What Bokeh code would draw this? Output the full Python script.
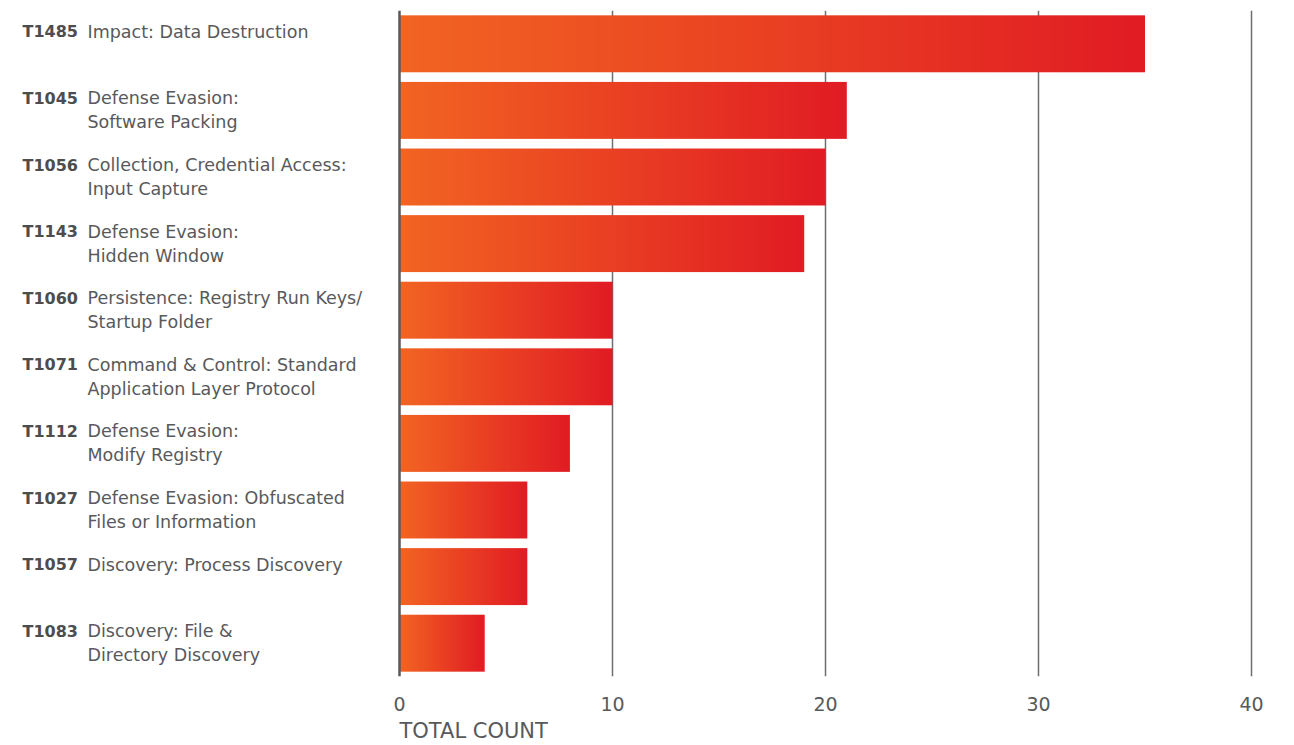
import numpy as np
from bokeh.plotting import figure
from bokeh.models import Range1d, FixedTicker, Span, Title, ColumnDataSource
from bokeh.embed import file_html
from bokeh.resources import INLINE
from bokeh.core.properties import value

codes = ["T1485", "T1045", "T1056", "T1143", "T1060", "T1071", "T1112", "T1027", "T1057", "T1083"]
desc_line1 = ["Impact: Data Destruction", "Defense Evasion:", "Collection, Credential Access:",
              "Defense Evasion:", "Persistence: Registry Run Keys/", "Command & Control: Standard",
              "Defense Evasion:", "Defense Evasion: Obfuscated", "Discovery: Process Discovery",
              "Discovery: File &"]
desc_line2 = ["", "Software Packing", "Input Capture", "Hidden Window", "Startup Folder",
              "Application Layer Protocol", "Modify Registry", "Files or Information", "",
              "Directory Discovery"]
counts = [35, 21, 20, 19, 10, 10, 8, 6, 6, 4]
x_ticks = [0, 10, 20, 30, 40]
axis_title = "TOTAL COUNT"

FONT = "DejaVu Sans"
TEXT_COLOR = "#58595b"
PX_PER_UNIT = 21.3
W = 1278
ZERO_PX = 399
n = len(codes)
ypos = [n - 1 - i for i in range(n)]
bar_h = 0.855

x_start = -ZERO_PX / PX_PER_UNIT
x_end = (W - ZERO_PX) / PX_PER_UNIT

p = figure(width=W, height=745, output_backend="svg", toolbar_location=None,
           x_range=Range1d(x_start, x_end), y_range=Range1d(-0.5, n - 0.5),
           y_axis_location=None, min_border_top=10, min_border_bottom=68,
           min_border_left=0, min_border_right=0)
p.outline_line_color = None
p.ygrid.grid_line_color = None
p.xgrid.ticker = FixedTicker(ticks=x_ticks[1:])
p.xgrid.grid_line_color = "#6d6e71"
p.xgrid.grid_line_width = 1.5

# gradient image (orange -> red)
steps = 256
img = np.empty((1, steps), dtype=np.uint32)
view = img.view(dtype=np.uint8).reshape((1, steps, 4))
view[0, :, 0] = np.linspace(242, 225, steps).astype(np.uint8)
view[0, :, 1] = np.linspace(101, 28, steps).astype(np.uint8)
view[0, :, 2] = np.linspace(34, 36, steps).astype(np.uint8)
view[0, :, 3] = 255

bars = ColumnDataSource(dict(
    image=[img] * n,
    x=[0] * n,
    y=[y - bar_h / 2 for y in ypos],
    dw=counts,
    dh=[bar_h] * n,
))
p.image_rgba(image="image", x="x", y="y", dw="dw", dh="dh", source=bars)

p.add_layout(Span(location=0, dimension="height", line_color="#58595b", line_width=2.5))

src = ColumnDataSource(dict(x=[x_start] * n, y=ypos, code=codes, d1=desc_line1, d2=desc_line2))
p.text(x="x", y="y", text="code", source=src, x_offset=22, y_offset=-12,
       text_baseline="middle", text_align="left", text_font=value(FONT),
       text_font_style="bold", text_font_size="16px", text_color="#4d4d4f")
p.text(x="x", y="y", text="d1", source=src, x_offset=87, y_offset=-12,
       text_baseline="middle", text_align="left", text_font=value(FONT),
       text_font_size="17.5px", text_color=TEXT_COLOR)
p.text(x="x", y="y", text="d2", source=src, x_offset=87, y_offset=12,
       text_baseline="middle", text_align="left", text_font=value(FONT),
       text_font_size="17.5px", text_color=TEXT_COLOR)

ax = p.xaxis[0]
ax.ticker = FixedTicker(ticks=x_ticks)
ax.axis_line_color = None
ax.major_tick_line_color = None
ax.minor_tick_line_color = None
ax.major_label_text_font = FONT
ax.major_label_text_font_size = "19px"
ax.major_label_text_color = TEXT_COLOR
ax.major_label_standoff = 14

p.add_layout(Title(text=axis_title, align="left", offset=ZERO_PX, text_font=FONT,
                   text_font_size="21px", text_font_style="normal",
                   text_color=TEXT_COLOR, standoff=6), "below")

open("out.html", "w").write(file_html(p, INLINE))
